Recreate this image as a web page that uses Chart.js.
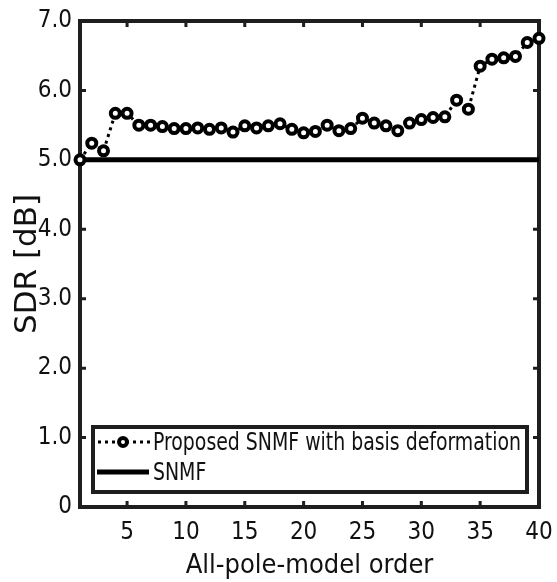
<!DOCTYPE html>
<html>
<head>
<meta charset="utf-8">
<script src="https://cdn.jsdelivr.net/npm/chart.js@4"></script>
<style>
  html, body { margin: 0; padding: 0; background: #fff; }
  #wrap { width: 557px; height: 582px; }
</style>
</head>
<body>
<div id="wrap"><canvas id="sdrChart" width="557" height="582"></canvas></div>
<script>
// model orders on the x axis
const orders = [1, 2, 3, 4, 5, 6, 7, 8, 9, 10, 11, 12, 13, 14, 15, 16, 17, 18, 19, 20,
                21, 22, 23, 24, 25, 26, 27, 28, 29, 30, 31, 32, 33, 34, 35, 36, 37, 38, 39, 40];
// SDR of the proposed method
const sdrProposed = [5.00, 5.24, 5.13, 5.67, 5.67, 5.50, 5.50, 5.48, 5.45, 5.45,
                     5.46, 5.44, 5.46, 5.40, 5.49, 5.46, 5.49, 5.52, 5.44, 5.39,
                     5.41, 5.50, 5.42, 5.45, 5.60, 5.53, 5.49, 5.42, 5.53, 5.58,
                     5.61, 5.62, 5.86, 5.73, 6.35, 6.45, 6.47, 6.49, 6.69, 6.75];
// baseline SNMF (does not depend on the order)
const snmfOrders = [1, 40];
const snmfSdr = [5.0, 5.0];

const xTicks = [5, 10, 15, 20, 25, 30, 35, 40];
const yTicks = [0, 1, 2, 3, 4, 5, 6, 7];
const seriesLabels = ["Proposed SNMF with basis deformation", "SNMF"];

const narrow = "'DejaVu Sans Condensed', 'Liberation Sans', sans-serif";
const frameColor = "#1e1e1e";

// box around the plot with small inward ticks
const framePlugin = {
    id: "frame",
    beforeDatasetsDraw(chart) {
        const { ctx, chartArea: a, scales } = chart;
        ctx.save();
        ctx.strokeStyle = frameColor;
        ctx.lineWidth = 4;
        ctx.strokeRect(a.left, a.top, a.right - a.left, a.bottom - a.top);
        ctx.lineWidth = 3;
        ctx.beginPath();
        xTicks.forEach(v => {
            const px = scales.x.getPixelForValue(v);
            ctx.moveTo(px, a.top); ctx.lineTo(px, a.top + 6);
            ctx.moveTo(px, a.bottom); ctx.lineTo(px, a.bottom - 6);
        });
        yTicks.forEach(v => {
            const py = scales.y.getPixelForValue(v);
            ctx.moveTo(a.left, py); ctx.lineTo(a.left + 6, py);
            ctx.moveTo(a.right, py); ctx.lineTo(a.right - 6, py);
        });
        ctx.stroke();
        ctx.restore();
    }
};

// legend in a framed box inside the plot
const boxLegend = {
    id: "boxLegend",
    afterDraw(chart) {
        const { ctx, chartArea: a } = chart;
        const ds = chart.data.datasets;
        const bx = a.left + 13, by = a.bottom - 80, bw = a.right - a.left - 25, bh = 65;
        ctx.save();
        ctx.fillStyle = "#fff";
        ctx.fillRect(bx, by, bw, bh);
        ctx.strokeStyle = frameColor;
        ctx.lineWidth = 4;
        ctx.strokeRect(bx, by, bw, bh);

        const y1 = by + 15, y2 = by + 45;
        // dotted sample with marker
        ctx.strokeStyle = "#000";
        ctx.lineWidth = 3;
        ctx.setLineDash([3, 4]);
        ctx.beginPath();
        ctx.moveTo(bx + 5, y1); ctx.lineTo(bx + 57, y1);
        ctx.stroke();
        ctx.setLineDash([]);
        ctx.beginPath();
        ctx.arc(bx + 30, y1, 4, 0, Math.PI * 2);
        ctx.fillStyle = "#fff";
        ctx.fill();
        ctx.lineWidth = 4;
        ctx.stroke();
        // solid sample
        ctx.lineWidth = 5;
        ctx.beginPath();
        ctx.moveTo(bx + 4, y2); ctx.lineTo(bx + 56, y2);
        ctx.stroke();

        // text squeezed to fit the box, like the narrow font of the original
        ctx.fillStyle = "#111";
        ctx.font = "25px " + narrow;
        ctx.textBaseline = "middle";
        const tx = bx + 60;
        const room = bx + bw - 6 - tx;
        const sx = Math.min(1, room / ctx.measureText(ds[0].label).width);
        [[ds[0].label, y1 + 1], [ds[1].label, y2 + 1]].forEach(([t, ty]) => {
            ctx.save();
            ctx.translate(tx, ty);
            ctx.scale(sx, 1);
            ctx.fillText(t, 0, 0);
            ctx.restore();
        });
        ctx.restore();
    }
};

new Chart(document.getElementById("sdrChart").getContext("2d"), {
    type: "line",
    data: {
        datasets: [
            {
                label: seriesLabels[0],
                data: orders.map((o, i) => ({ x: o, y: sdrProposed[i] })),
                borderColor: "#000",
                borderWidth: 3,
                borderDash: [3, 4],
                pointRadius: 4.5,
                pointBorderWidth: 4,
                pointBackgroundColor: "#fff",
                pointBorderColor: "#000",
                tension: 0,
                clip: false,
            },
            {
                label: seriesLabels[1],
                data: snmfOrders.map((o, i) => ({ x: o, y: snmfSdr[i] })),
                borderColor: "#000",
                borderWidth: 5,
                pointRadius: 0,
                clip: false,
            },
        ],
    },
    options: {
        responsive: false,
        animation: false,
        layout: { padding: { top: 21, right: 18, left: 0, bottom: 0 } },
        plugins: {
            legend: { display: false },
            tooltip: { enabled: false },
        },
        scales: {
            x: {
                type: "linear",
                min: 1,
                max: 40,
                grid: { display: false, drawTicks: false },
                border: { display: false },
                afterBuildTicks: s => { s.ticks = xTicks.map(v => ({ value: v })); },
                afterFit: s => { s.height = 75; s.paddingLeft = 0; s.paddingRight = 0; },
                ticks: {
                    padding: 11,
                    color: "#111",
                    font: { family: narrow, size: 24 },
                    callback: v => String(v),
                },
                title: {
                    display: true,
                    text: "All-pole-model order",
                    color: "#111",
                    padding: { top: 0, bottom: 0 },
                    font: { family: narrow, size: 27 },
                },
            },
            y: {
                min: 0,
                max: 7,
                grid: { display: false, drawTicks: false },
                border: { display: false },
                afterBuildTicks: s => { s.ticks = yTicks.map(v => ({ value: v })); },
                afterFit: s => { s.width = 80; s.paddingTop = 0; s.paddingBottom = 0; },
                ticks: {
                    padding: 8,
                    color: "#111",
                    font: { family: narrow, size: 24 },
                    callback: v => (v === 0 ? "0" : v.toFixed(1)),
                },
                title: {
                    display: true,
                    text: "SDR [dB]",
                    color: "#111",
                    padding: { top: 9, bottom: 0 },
                    font: { family: "'DejaVu Sans', sans-serif", size: 31 },
                },
            },
        },
    },
    plugins: [framePlugin, boxLegend],
});
</script>
</body>
</html>
